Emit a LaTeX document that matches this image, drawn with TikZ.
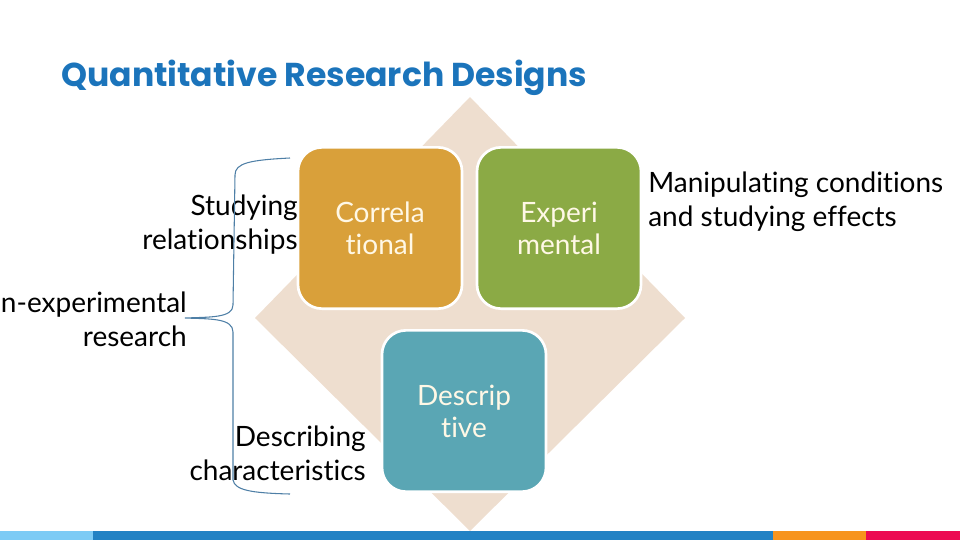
\documentclass[tikz,border=0pt]{standalone}
\usepackage{fontspec}
\setmainfont{Lato}[RawFeature={-liga;-dlig}]
\newfontfamily\titlefont{Poppins}
\begin{document}
\begin{tikzpicture}[x=0.75pt,y=-0.75pt,
  box/.style={rectangle, rounded corners=18pt, draw=white, line width=2pt,
    minimum width=123pt, minimum height=121pt, text=boxtext, align=center,
    font=\fontsize{21}{24}\selectfont, inner sep=0pt},
  side/.style={text=black, font=\fontsize{21}{25.5}\selectfont, inner sep=0pt}]
\definecolor{titleblue}{HTML}{1B74BB}
\definecolor{diam}{HTML}{EEDECF}
\definecolor{corr}{HTML}{D9A03A}
\definecolor{expe}{HTML}{8BAA45}
\definecolor{desc}{HTML}{5AA6B4}
\definecolor{boxtext}{HTML}{FFF8E6}
\definecolor{bracec}{HTML}{4E7FA6}
\definecolor{barA}{HTML}{7DCBF5}
\definecolor{barB}{HTML}{2282C4}
\definecolor{barC}{HTML}{F7941D}
\definecolor{barD}{HTML}{EC0A52}
\useasboundingbox (0,0) rectangle (960,540);
\clip (0,0) rectangle (960,540);
% diamond
\fill[diam] (470,97) -- (685,318) -- (470,531) -- (255,318) -- cycle;
% bottom bar
\fill[barA] (0,531) rectangle (93,540);
\fill[barB] (93,531) rectangle (773,540);
\fill[barC] (773,531) rectangle (866,540);
\fill[barD] (866,531) rectangle (960,540);
% title
\node[anchor=base west, text=titleblue, font=\titlefont\fontsize{24.8}{28}\selectfont\bfseries, inner sep=0pt] (title) at (61,86) {Quantitative Research Designs};
% boxes
\node[box, fill=corr] (corr) at (380,228) {Correla\\tional};
\node[box, fill=expe] (expe) at (559,228) {Experi\\mental};
\node[box, fill=desc] (desc) at (464,411) {Descrip\\tive};
% side texts
\node[side, anchor=east, align=right] (stud) at (298,225) {Studying\\relationships};
\node[side, anchor=east, align=right] (nonx) at (187,319) {Non-experimental\\research};
\node[side, anchor=east, align=right] (dscr) at (366,453) {Describing\\characteristics};
\node[side, anchor=west, align=left] (mani) at (648,202) {Manipulating conditions\\and studying effects};
% brace
\coordinate (btop) at (290,158);
\coordinate (bbot) at (290,494);
\coordinate (btip) at (185,318);
\draw[bracec, line width=0.8pt] (btop) .. controls (250,160) and (235,163) .. (235,175)
  -- (233,305) .. controls (233,318) and (210,317) .. (btip)
  .. controls (210,319) and (233,318) .. (233,332)
  -- (233,480) .. controls (235,490) and (250,493) .. (bbot);
\end{tikzpicture}
\end{document}
